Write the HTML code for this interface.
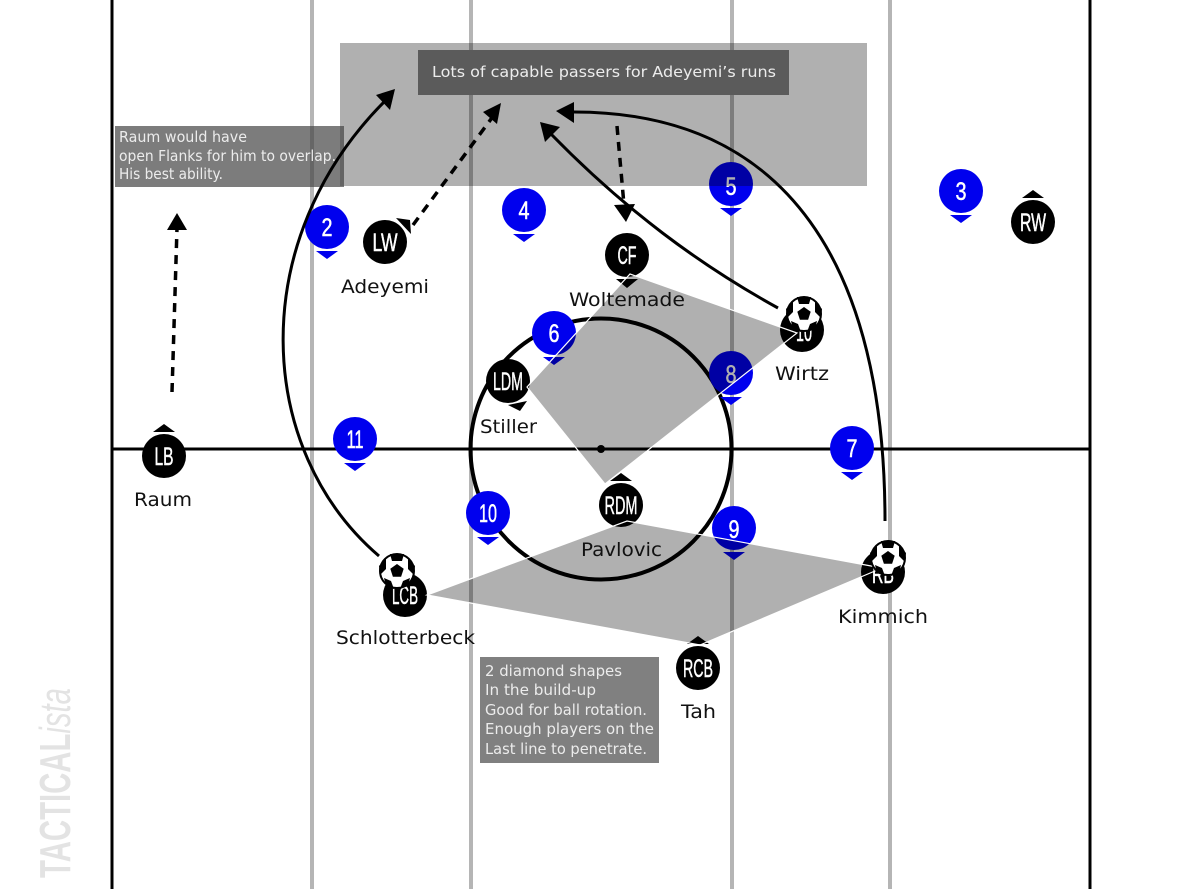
<!DOCTYPE html>
<html><head><meta charset="utf-8"><style>
html,body{margin:0;padding:0;background:#fff}
svg{display:block}
.n{font-family:"Liberation Sans",sans-serif;font-size:25px;fill:#fff;text-anchor:middle;stroke:#fff;stroke-width:.5px}
.l{font-family:"DejaVu Sans","Liberation Sans",sans-serif;font-size:19px;fill:#111}
.t{font-family:"DejaVu Sans","Liberation Sans",sans-serif;font-size:15px;fill:#ececec}
</style></head><body>
<svg xmlns="http://www.w3.org/2000/svg" width="1200" height="889" viewBox="0 0 1200 889">
<defs>
<g id="ball">
<circle r="17" fill="#fff" stroke="#000" stroke-width="2"/>
<polygon points="0,-7 6.7,-2.2 4.1,5.7 -4.1,5.7 -6.7,-2.2" fill="#000"/>
<path d="M-7,-17 L7,-17 L5,-10 L-5,-10Z M11,-13 L18,-5 L17,4 L11,-2Z M-11,-13 L-18,-5 L-17,4 L-11,-2Z M-11,15 L-13,7 L-6,10 L-3,18Z M11,15 L13,7 L6,10 L3,18Z" fill="#000"/>
</g>
<g id="pin"><circle r="22" fill="#0000ee"/><polygon points="-11,24 11,24 0,32" fill="#0000ee"/></g>
</defs>
<rect width="1200" height="889" fill="#fff"/>

<g stroke="#b5b5b5" stroke-width="4">
<line x1="312" y1="0" x2="312" y2="889"/><line x1="471" y1="0" x2="471" y2="889"/>
<line x1="732" y1="0" x2="732" y2="889"/><line x1="890" y1="0" x2="890" y2="889"/>
</g>
<g stroke="#000" stroke-width="3" fill="none">
<line x1="112" y1="0" x2="112" y2="889"/><line x1="1090" y1="0" x2="1090" y2="889"/>
<line x1="112" y1="449" x2="1090" y2="449"/>
</g>
<circle cx="601" cy="449" r="130.5" fill="none" stroke="#000" stroke-width="4"/>
<circle cx="601" cy="449" r="4" fill="#000"/>

<text transform="translate(70,878) rotate(-90)" font-family="Liberation Sans,sans-serif" font-size="44" fill="#e3e3e3" textLength="190" lengthAdjust="spacingAndGlyphs"><tspan font-weight="bold">TACTICAL</tspan><tspan font-style="italic">ista</tspan></text>

<!-- opposition pins -->
<use href="#pin" x="327" y="227"/><use href="#pin" x="524" y="210"/><use href="#pin" x="731" y="184"/>
<use href="#pin" x="961" y="191"/><use href="#pin" x="554" y="333"/><use href="#pin" x="731" y="373"/>
<use href="#pin" x="355" y="439"/><use href="#pin" x="852" y="448"/><use href="#pin" x="488" y="513"/>
<use href="#pin" x="734" y="528"/>
<text class="n" x="327" y="236" textLength="11" lengthAdjust="spacingAndGlyphs">2</text>
<text class="n" x="524" y="219" textLength="11" lengthAdjust="spacingAndGlyphs">4</text>
<text class="n" x="731" y="195" textLength="11" lengthAdjust="spacingAndGlyphs">5</text>
<text class="n" x="961" y="200" textLength="11" lengthAdjust="spacingAndGlyphs">3</text>
<text class="n" x="554" y="342" textLength="11" lengthAdjust="spacingAndGlyphs">6</text>
<text class="n" x="731" y="383" textLength="11" lengthAdjust="spacingAndGlyphs">8</text>
<text class="n" x="355" y="448" textLength="17" lengthAdjust="spacingAndGlyphs">11</text>
<text class="n" x="852" y="457" textLength="11" lengthAdjust="spacingAndGlyphs">7</text>
<text class="n" x="488" y="522" textLength="18" lengthAdjust="spacingAndGlyphs">10</text>
<text class="n" x="734" y="538" textLength="11" lengthAdjust="spacingAndGlyphs">9</text>

<!-- players -->
<g fill="#000">
<circle cx="385" cy="242" r="22"/><circle cx="627" cy="255" r="22"/><circle cx="1033" cy="222" r="22"/>
<circle cx="508" cy="381" r="22"/><circle cx="802" cy="330" r="22"/><circle cx="164" cy="456" r="22"/>
<circle cx="621" cy="505" r="22"/><circle cx="405" cy="595" r="22"/><circle cx="883" cy="572" r="22"/>
<circle cx="698" cy="668" r="22"/>
<polygon points="396,218 410,220 411,234"/>
<polygon points="616,279 638,279 627,288"/>
<polygon points="1022,198 1044,198 1033,190"/>
<polygon points="508,405 527,401 520,411"/>
<polygon points="153,432 175,432 164,424"/>
<polygon points="610,481 632,481 621,473"/>
<polygon points="687,644 709,644 698,636"/>
</g>
<text class="n" x="385" y="251" textLength="25" lengthAdjust="spacingAndGlyphs">LW</text>
<text class="n" x="627" y="264" textLength="19" lengthAdjust="spacingAndGlyphs">CF</text>
<text class="n" x="1033" y="231" textLength="26" lengthAdjust="spacingAndGlyphs">RW</text>
<text class="n" x="508" y="390" textLength="30" lengthAdjust="spacingAndGlyphs">LDM</text>
<text class="n" x="804" y="341" textLength="16" lengthAdjust="spacingAndGlyphs">10</text>
<text class="n" x="164" y="465" textLength="19" lengthAdjust="spacingAndGlyphs">LB</text>
<text class="n" x="621" y="514" textLength="33" lengthAdjust="spacingAndGlyphs">RDM</text>
<text class="n" x="405" y="604" textLength="26" lengthAdjust="spacingAndGlyphs">LCB</text>
<text class="n" x="883" y="583" textLength="22" lengthAdjust="spacingAndGlyphs">RB</text>
<text class="n" x="698" y="677" textLength="30" lengthAdjust="spacingAndGlyphs">RCB</text>

<!-- zone and diamonds -->
<rect x="340" y="43" width="527" height="143" fill="#000" fill-opacity=".31"/>
<polygon points="527,387 630,274 797,333 605,484" fill="#000" fill-opacity=".31" stroke="#fff" stroke-width="1.2"/>
<polygon points="427,595 627,521 882,568 700,645" fill="#000" fill-opacity=".31" stroke="#fff" stroke-width="1.2"/>

<use href="#ball" x="804" y="314"/><use href="#ball" x="888" y="558"/><use href="#ball" x="397" y="571"/>

<!-- boxes -->
<rect x="418" y="50" width="371" height="45" fill="#5b5b5b"/>
<rect x="115" y="126" width="229" height="61" fill="#444" fill-opacity=".7"/>
<rect x="480" y="657" width="179" height="106" fill="#808080"/>
<text class="t" x="432" y="77" font-size="16" textLength="344" lengthAdjust="spacingAndGlyphs">Lots of capable passers for Adeyemi’s runs</text>
<text class="t" x="119" y="142" textLength="128" lengthAdjust="spacingAndGlyphs">Raum would have</text>
<text class="t" x="119" y="161" textLength="217" lengthAdjust="spacingAndGlyphs">open Flanks for him to overlap.</text>
<text class="t" x="119" y="179" textLength="104" lengthAdjust="spacingAndGlyphs">His best ability.</text>
<text class="t" x="485" y="676" textLength="137" lengthAdjust="spacingAndGlyphs">2 diamond shapes</text>
<text class="t" x="485" y="695" textLength="111" lengthAdjust="spacingAndGlyphs">In the build-up</text>
<text class="t" x="485" y="715" textLength="162" lengthAdjust="spacingAndGlyphs">Good for ball rotation.</text>
<text class="t" x="485" y="734" textLength="169" lengthAdjust="spacingAndGlyphs">Enough players on the</text>
<text class="t" x="485" y="754" textLength="162" lengthAdjust="spacingAndGlyphs">Last line to penetrate.</text>

<!-- arrows -->
<g fill="none" stroke="#000" stroke-width="3">
<path d="M379,556 C255,450 245,240 386,100"/>
<path d="M885,521 C885,270 790,110 570,112"/>
<path d="M778,308 C700,265 625,210 550,133"/>
<g stroke-dasharray="9 7" stroke-width="3.5">
<line x1="172" y1="392" x2="177" y2="228"/>
<line x1="413" y1="225" x2="494" y2="115"/>
<line x1="617" y1="126" x2="624" y2="205"/>
</g>
</g>
<g fill="#000">
<polygon points="395,89 376,95 390,110"/>
<polygon points="556,111 574,102 574,123"/>
<polygon points="540,122 560,127 545,142"/>
<polygon points="626,222 614,205 635,204"/>
<polygon points="177,213 167,230 187,230"/>
<polygon points="501,103 483,112 497,124"/>
</g>

<!-- names -->
<text class="l" x="341" y="293" textLength="88" lengthAdjust="spacingAndGlyphs">Adeyemi</text>
<text class="l" x="569" y="306" textLength="116" lengthAdjust="spacingAndGlyphs">Woltemade</text>
<text class="l" x="775" y="380" textLength="54" lengthAdjust="spacingAndGlyphs">Wirtz</text>
<text class="l" x="480" y="433" textLength="57" lengthAdjust="spacingAndGlyphs">Stiller</text>
<text class="l" x="134" y="506" textLength="58" lengthAdjust="spacingAndGlyphs">Raum</text>
<text class="l" x="581" y="556" textLength="81" lengthAdjust="spacingAndGlyphs">Pavlovic</text>
<text class="l" x="336" y="644" textLength="139" lengthAdjust="spacingAndGlyphs">Schlotterbeck</text>
<text class="l" x="838" y="623" textLength="90" lengthAdjust="spacingAndGlyphs">Kimmich</text>
<text class="l" x="681" y="718" textLength="35" lengthAdjust="spacingAndGlyphs">Tah</text>
</svg>
</body></html>
